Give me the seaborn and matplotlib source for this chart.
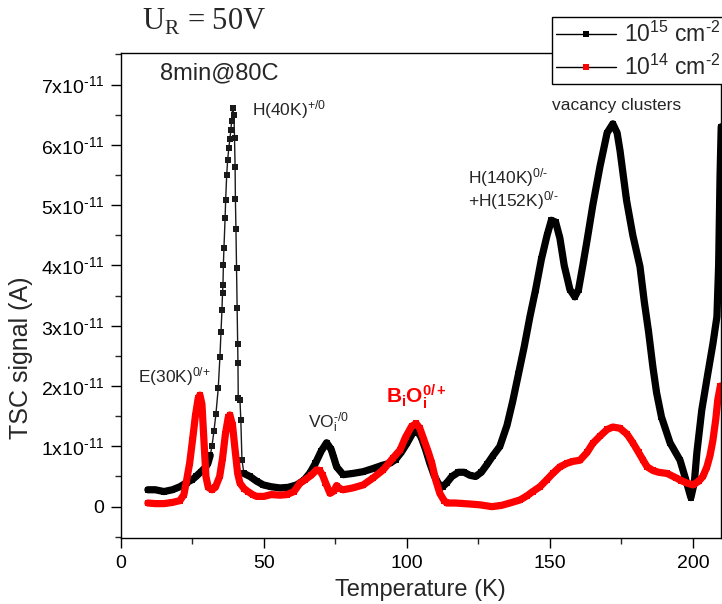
import numpy as np
import pandas as pd
import matplotlib
matplotlib.use("Agg")
import matplotlib.pyplot as plt
import seaborn as sns
from matplotlib.ticker import FixedLocator, MultipleLocator
from matplotlib.lines import Line2D

# ---------------- data (signal in units of 1e-11 A) ----------------
black_T = [9.4, 12, 15, 18, 20.6, 23, 25, 26.2, 28, 29.7, 30.4, 31.2, 31.8, 32.5, 33.2,
           34.0, 34.6, 34.97, 35.3, 35.5, 35.66, 35.8, 36.0, 36.4, 36.6, 36.96, 37.3, 37.7,
           38.1, 38.4, 38.7, 39.0, 39.5, 39.7, 39.9, 40.0, 40.2, 40.4, 40.6, 40.8, 40.9, 41.0,
           41.6, 41.9, 42.3, 43.0,
           45.1, 47.5, 49.8, 52.5, 55.6, 58.5, 61.4, 64, 66.1, 68, 70, 71.9, 73.5, 74.5,
           75.4, 77.7, 81, 84.7, 88, 91.7, 94, 96, 98, 100, 102, 103.5, 105, 106.5, 108,
           109.5, 111, 112.5, 114, 115.7, 118, 120, 122, 124, 126, 128, 130, 132.5, 135,
           137, 139, 141, 143, 145, 147, 149, 150.5, 152, 153.5, 155, 157, 158.7, 160, 161.5,
           163, 165, 167.5, 170, 172, 173.5, 174.5, 176.8, 179, 181.5, 183, 184.5, 186,
           187.3, 189, 192, 195.5, 197.5, 199.3, 200.5, 201.4, 203.1, 205.2, 207, 208.4,
           209, 209.5, 209.9]
black_sig = [0.28, 0.28, 0.25, 0.28, 0.33, 0.40, 0.45, 0.50, 0.58, 0.66, 0.72, 0.85, 1.0, 1.25, 1.54,
             1.96, 2.49, 2.90, 3.26, 3.54, 3.68, 4.01, 4.29, 4.78, 5.09, 5.5, 5.75, 5.95,
             6.10, 6.25, 6.40, 6.61, 6.50, 6.11, 5.64, 5.11, 4.60, 3.95, 3.30, 2.70, 2.38, 1.80,
             1.77, 1.44, 0.77, 0.55,
             0.50, 0.42, 0.36, 0.33, 0.31, 0.32, 0.36, 0.44, 0.56, 0.72, 0.92, 1.06, 0.95, 0.8,
             0.66, 0.53, 0.55, 0.58, 0.63, 0.69, 0.72, 0.78, 0.90, 1.05, 1.22, 1.26, 1.15, 0.95,
             0.72, 0.52, 0.38, 0.33, 0.40, 0.50, 0.57, 0.57, 0.52, 0.50, 0.57, 0.70, 0.84, 1.0,
             1.35, 1.75, 2.2, 2.65, 3.15, 3.6, 4.1, 4.5, 4.75, 4.72, 4.45, 4.0, 3.6, 3.48, 3.6,
             4.0, 4.42, 5.0, 5.64, 6.2, 6.35, 6.2, 5.91, 5.08, 4.5, 3.98, 3.4, 2.9, 2.32, 1.89,
             1.49, 1.06, 0.77, 0.45, 0.15, 0.4, 0.9, 1.6, 2.2, 2.7, 3.15, 4.0, 5.5, 6.3]

red_T = [9.4, 12, 15, 18, 20.6, 22, 23, 24, 25, 26, 27, 27.6, 28.3, 29, 29.7, 30.5, 31.8, 33,
         34.5, 35.5, 36.5, 37.5, 38.1, 39, 39.9, 40.8, 41.6, 43, 44.4, 46, 47.4, 50, 52.5,
         55.6, 58, 60.5, 62.6, 64.5, 66.5, 68.4, 69.5, 70.5, 71.5, 73.1, 74.5, 75.4, 76.5,
         77.7, 81, 84.7, 88, 91.7, 95, 97.6, 99.5, 101.6, 103.2, 104.5, 106, 107.5, 108.7,
         110, 111.5, 113, 114, 117, 120, 123, 125.5, 129.7, 133, 136, 139.5, 142, 144, 146.5,
         149, 151, 153.5, 156, 158, 160.5, 163, 165, 167.5, 170, 172, 174.5, 177, 179, 181,
         182.6, 184, 186, 188, 191, 194, 196, 198, 200, 202, 203.5, 204.9, 206, 207, 208,
         208.7, 209.6]
red_sig = [0.06, 0.05, 0.05, 0.07, 0.10, 0.20, 0.45, 0.72, 1.1, 1.5, 1.8, 1.85, 1.7, 1.1, 0.5,
           0.32, 0.28, 0.32, 0.5, 0.8, 1.2, 1.48, 1.52, 1.35, 0.94, 0.55, 0.39, 0.30, 0.25,
           0.20, 0.17, 0.17, 0.20, 0.19, 0.20, 0.25, 0.39, 0.45, 0.52, 0.61, 0.60, 0.52, 0.40,
           0.22, 0.26, 0.35, 0.30, 0.28, 0.31, 0.36, 0.47, 0.61, 0.80, 0.94, 1.15, 1.33, 1.38,
           1.3, 1.1, 0.9, 0.72, 0.45, 0.22, 0.10, 0.06, 0.06, 0.05, 0.04, 0.03, 0.0, 0.02, 0.06,
           0.11, 0.18, 0.25, 0.33, 0.45, 0.55, 0.66, 0.72, 0.75, 0.77, 0.90, 1.05, 1.17, 1.28,
           1.32, 1.30, 1.2, 1.06, 0.9, 0.77, 0.66, 0.60, 0.57, 0.55, 0.48, 0.43, 0.39, 0.36,
           0.42, 0.50, 0.66, 0.85, 1.1, 1.45, 1.77, 2.0]

series_labels = [r"10$^{15}$ cm$^{\text{-2}}$", r"10$^{14}$ cm$^{\text{-2}}$"]
x_ticks = [0, 50, 100, 150, 200]
y_ticks_e11 = [0, 1, 2, 3, 4, 5, 6, 7]
y_tick_labels = ["0"] + [rf"{v}x10$^{{\text{{-11}}}}$" for v in y_ticks_e11[1:]]

# ---------------- style ----------------
sns.set_style("ticks")
plt.rcParams["font.family"] = ["Liberation Sans", "DejaVu Sans"]
plt.rcParams["mathtext.fontset"] = "custom"
plt.rcParams["mathtext.rm"] = "Liberation Sans"
plt.rcParams["mathtext.it"] = "Liberation Sans:italic"
plt.rcParams["mathtext.bf"] = "Liberation Sans:bold"

fig = plt.figure(figsize=(7.22, 6.04), dpi=100)
ax = fig.add_axes([0.1676, 0.1093, 0.8305, 0.8025])

scale = 1e-11
df_b = pd.DataFrame({"T": black_T, "S": np.array(black_sig) * scale})
# dense parts of the black trace are drawn as a thick band; the fast H(40K) peak stays thin
df_b["seg"] = np.where(df_b["T"] < 31.5, 0, np.where(df_b["T"] > 42.5, 2, 1))
df_b_dense = df_b[df_b["seg"] != 1]
df_r = pd.DataFrame({"T": red_T, "S": np.array(red_sig) * scale})

sns.lineplot(data=df_b, x="T", y="S", ax=ax, color="#1a1a1a", lw=1.0, marker="s",
             markersize=5, markeredgewidth=0, sort=False, estimator=None, legend=False)
sns.lineplot(data=df_b_dense, x="T", y="S", units="seg", ax=ax, color="black", lw=5.2,
             sort=False, estimator=None, legend=False)
sns.lineplot(data=df_r, x="T", y="S", ax=ax, color="#ff0000", lw=5.2, marker="s",
             markersize=5, markeredgewidth=0, sort=False, estimator=None, legend=False)

ax.set_xlim(0, 209.7)
ax.set_ylim(-0.52e-11, 7.52e-11)
ax.xaxis.set_major_locator(FixedLocator(x_ticks))
ax.xaxis.set_minor_locator(MultipleLocator(25))
ax.yaxis.set_major_locator(FixedLocator([v * scale for v in y_ticks_e11]))
ax.set_yticklabels(y_tick_labels)
ax.yaxis.set_minor_locator(MultipleLocator(0.5e-11))
ax.tick_params(which="major", direction="out", length=7, width=1, labelsize=14, pad=5,
               top=False, right=False, colors="black")
ax.tick_params(which="minor", direction="out", length=4, width=1, top=False, right=False)
for s in ax.spines.values():
    s.set_visible(True)
    s.set_color("black")
    s.set_linewidth(1)

ax.set_xlabel("Temperature (K)", fontsize=17)
ax.set_ylabel("TSC signal (A)", fontsize=18)
ax.xaxis.set_label_coords(0.5, -0.084)
ax.yaxis.set_label_coords(-0.147, 0.371)

# annotations
ax.text(0.065, 0.959, "8min@80C", transform=ax.transAxes, fontsize=17, va="center", ha="left")
ax.text(45.8, 6.58e-11, r"H(40K)$^{\text{+/0}}$", fontsize=12.5, va="center", ha="left")
ax.text(173.4, 6.66e-11, "vacancy clusters", fontsize=12.5, va="center", ha="center")
ax.text(121.3, 5.46e-11, r"H(140K)$^{\text{0/-}}$", fontsize=12.5, va="center", ha="left")
ax.text(121.3, 5.07e-11, r"+H(152K)$^{\text{0/-}}$", fontsize=12.5, va="center", ha="left")
ax.text(5.9, 2.15e-11, r"E(30K)$^{\text{0/+}}$", fontsize=12.5, va="center", ha="left")
ax.text(65.4, 1.39e-11, r"VO$_\mathregular{i}^{\text{-/0}}$", fontsize=12.5, va="center", ha="left")
ax.text(92.7, 1.82e-11, r"$\mathbf{B_iO_i^{0/+}}$", fontsize=15, va="center", ha="left",
        color="#ff0000")

fig.text(142 / 722, 0.964, r"U$_{\mathregular{R}}$ = 50V", fontfamily="Liberation Serif",
         fontsize=22, va="center", ha="left")

handles = [Line2D([0], [0], color="black", lw=1, marker="s", markersize=5, markeredgewidth=0),
           Line2D([0], [0], color="black", lw=1, marker="s", markersize=5, markeredgewidth=0,
                  markerfacecolor="#ff0000")]
leg = fig.legend(handles, series_labels, loc="upper right", bbox_to_anchor=(1.004, 0.972),
                 fontsize=16.5, frameon=True, fancybox=False, framealpha=1, edgecolor="black",
                 handlelength=2.6, borderpad=0.2, labelspacing=0.35, handletextpad=0.35,
                 borderaxespad=0)
leg.get_frame().set_linewidth(1)

fig.savefig("out.png", dpi=100)
